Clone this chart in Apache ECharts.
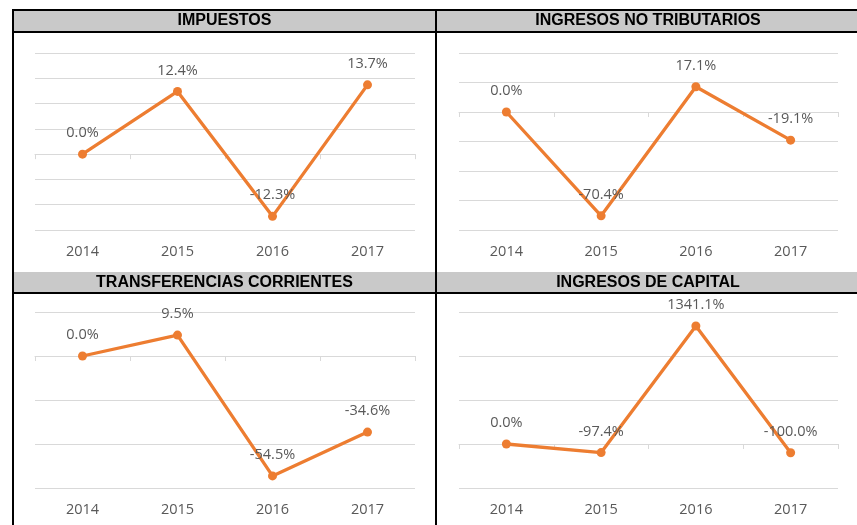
<!DOCTYPE html>
<html>
<head>
<meta charset="utf-8">
<script src="https://cdn.jsdelivr.net/npm/echarts@6/dist/echarts.min.js"></script>
<style>
  html, body { margin: 0; padding: 0; background: #fff; }
  #chart { width: 857px; height: 525px; }
</style>
</head>
<body>
<div id="chart"></div>
<script>
// datos
const years = ['2014', '2015', '2016', '2017'];
const impuestos = [0.0, 12.4, -12.3, 13.7];
const noTributarios = [0.0, -70.4, 17.1, -19.1];
const transferencias = [0.0, 9.5, -54.5, -34.6];
const capital = [0.0, -97.4, 1341.1, -100.0];

const titles = ['IMPUESTOS', 'INGRESOS NO TRIBUTARIOS', 'TRANSFERENCIAS CORRIENTES', 'INGRESOS DE CAPITAL'];
const seriesData = [impuestos, noTributarios, transferencias, capital];

// layout de cada panel
const panels = [
  { left: 35, top: 53, width: 380, height: 177, min: -15, max: 20, interval: 5, titleX: 224.5, titleY: 21 },
  { left: 459, top: 53, width: 379, height: 177, min: -80, max: 40, interval: 20, titleX: 648, titleY: 21 },
  { left: 35, top: 312, width: 380, height: 176, min: -60, max: 20, interval: 20, titleX: 224.5, titleY: 282.5 },
  { left: 459, top: 312, width: 379, height: 176, min: -500, max: 1500, interval: 500, titleX: 648, titleY: 282.5 }
];

const FONT = '"Open Sans", "Liberation Sans", sans-serif';
const gridColor = '#d9d9d9';
const textColor = '#595959';
const orange = '#ED7D31';

const grids = [], xAxes = [], yAxes = [], series = [];

panels.forEach((p, i) => {
  grids.push({ left: p.left, top: p.top, width: p.width, height: p.height, containLabel: false, outerBoundsMode: 'none' });

  // eje con etiquetas abajo
  xAxes.push({
    type: 'category', gridIndex: i, data: years, position: 'bottom',
    axisLine: { show: false, onZero: false },
    axisTick: { show: false },
    axisLabel: { color: textColor, fontSize: 14.5, fontFamily: FONT, margin: 14 }
  });
  // línea del cero con marcas
  xAxes.push({
    type: 'category', gridIndex: i, data: years, position: 'bottom',
    axisLine: { show: true, onZero: true, lineStyle: { color: gridColor, width: 1 } },
    axisTick: { show: true, length: 5, lineStyle: { color: gridColor } },
    axisLabel: { show: false }
  });

  yAxes.push({
    type: 'value', gridIndex: i, min: p.min, max: p.max, interval: p.interval,
    axisLine: { show: false }, axisTick: { show: false }, axisLabel: { show: false },
    splitLine: { show: true, lineStyle: { color: gridColor, width: 1 } }
  });

  series.push({
    type: 'line', xAxisIndex: i * 2, yAxisIndex: i, data: seriesData[i],
    symbol: 'circle', symbolSize: 9,
    lineStyle: { color: orange, width: 3.3 },
    itemStyle: { color: orange },
    label: {
      show: true, position: 'top', distance: 9,
      color: textColor, fontSize: 14.5, fontFamily: FONT,
      formatter: params => params.value.toFixed(1) + '%'
    },
    animation: false
  });
});

// encabezados y bordes
const graphic = [
  { type: 'rect', shape: { x: 13, y: 10, width: 844, height: 21 }, style: { fill: '#c9c9c9' } },
  { type: 'rect', shape: { x: 14, y: 272, width: 843, height: 20 }, style: { fill: '#c9c9c9' } },
  { type: 'rect', shape: { x: 12, y: 9, width: 845, height: 2 }, style: { fill: '#000' } },
  { type: 'rect', shape: { x: 12, y: 31, width: 845, height: 2 }, style: { fill: '#000' } },
  { type: 'rect', shape: { x: 12, y: 292, width: 845, height: 2 }, style: { fill: '#000' } },
  { type: 'rect', shape: { x: 12, y: 9, width: 2, height: 516 }, style: { fill: '#000' } },
  { type: 'rect', shape: { x: 435, y: 9, width: 2, height: 516 }, style: { fill: '#000' } }
];
panels.forEach((p, i) => {
  graphic.push({
    type: 'text', x: p.titleX, y: p.titleY,
    style: {
      text: titles[i], fill: '#000', font: 'bold 16px "Liberation Sans", Arial, sans-serif',
      textAlign: 'center', textVerticalAlign: 'middle'
    }
  });
});

const chart = echarts.init(document.getElementById('chart'));
chart.setOption({
  animation: false,
  backgroundColor: '#fff',
  grid: grids,
  xAxis: xAxes,
  yAxis: yAxes,
  series: series,
  graphic: graphic
});
window.addEventListener('resize', () => chart.resize());
</script>
</body>
</html>
